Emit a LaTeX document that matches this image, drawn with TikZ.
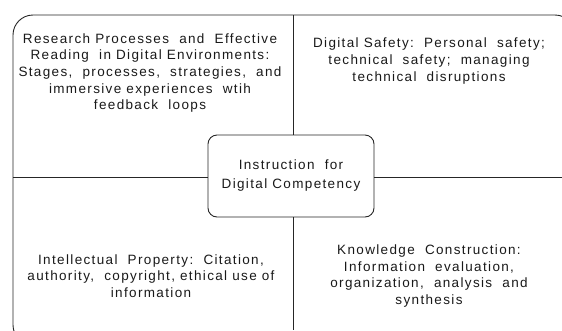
\documentclass[tikz,border=0pt]{standalone}
\usepackage{fontspec}
\setmainfont{Liberation Sans}[LetterSpace=10]
\begin{document}
\begin{tikzpicture}[x=1pt,y=-1pt,
  frame/.style={draw=black!85,line width=0.9pt},
  lbl/.style={align=center,font=\fontsize{13.5}{16.7}\selectfont,inner sep=0pt,text=black!90},
  hub/.style={frame,rounded corners=9pt,minimum width=166pt,minimum height=82pt,inner sep=0pt}]
\useasboundingbox (0,0) rectangle (562,330);
\begin{scope}
\clip (0,0) rectangle (562,330);
\draw[frame,rounded corners=20pt] (13,15) rectangle (575,345);
\end{scope}
\coordinate (topmid) at (293,15);
\coordinate (botmid) at (293,330);
\coordinate (leftmid) at (13,177);
\coordinate (rightmid) at (562,177);
\node[hub] (hubbox) at (291,176) {};
\node[lbl,font=\fontsize{13.5}{19}\selectfont] (hubtext) at (291,176) {Instruction\ \ for\\Digital Competency};
\draw[frame] (topmid) -- (topmid |- hubbox.north);
\draw[frame] (botmid |- hubbox.south) -- (botmid);
\draw[frame] (leftmid) -- (leftmid -| hubbox.west);
\draw[frame] (rightmid -| hubbox.east) -- (rightmid);
\node[lbl] (tl) at (150,73) {Research Processes\ \ and\ \ Effective\\Reading\ \ in Digital Environments:\\Stages,\ \ processes,\ \ strategies,\ \ and\\immersive experiences\ \ wtih\\feedback\ \ loops};
\node[lbl] (tr) at (429,61) {Digital Safety:\ \ Personal\ \ safety;\\technical\ \ safety;\ \ managing\\technical\ \ disruptions};
\node[lbl] (bl) at (151,276) {Intellectual\ \ Property:\ \ Citation,\\authority,\ \ copyright, ethical use of\\information};
\node[lbl] (br) at (429,276) {Knowledge\ \ Construction:\\Information\ \ evaluation,\\organization,\ \ analysis\ \ and\\synthesis};
\end{tikzpicture}
\end{document}
